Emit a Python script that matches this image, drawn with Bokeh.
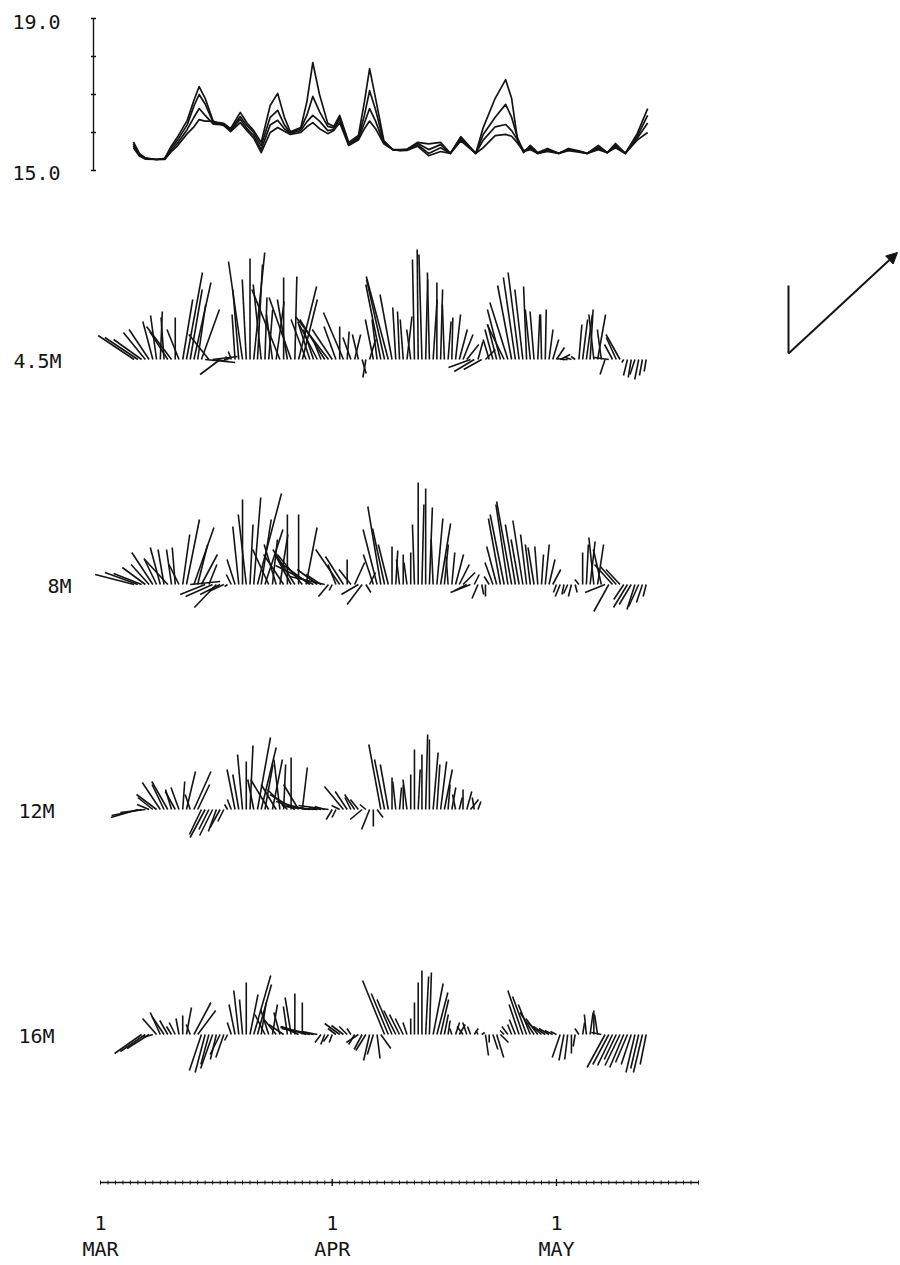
import math
from bokeh.plotting import figure
from bokeh.models import Range1d, Arrow, NormalHead
from bokeh.core.properties import value
from bokeh.embed import file_html
from bokeh.resources import INLINE

nan = float("nan")

# ---------------- data ----------------
# temperature (deg C) at four depths, key days since 1 March
TEMP_DAY = [4.4, 5.2, 6.0, 7.5, 8.6, 9.4, 10.3, 11.6, 12.5, 13.2, 14.0, 15.1, 16.5, 17.4, 18.7,
            19.6, 20.5, 21.5, 22.7, 23.7, 24.6, 25.4, 26.8, 27.6, 28.4, 29.3, 30.4, 31.2, 32.0, 33.2,
            34.5, 35.3, 36.0, 36.8, 37.9, 39.1, 40.1, 41.0, 42.4, 43.9, 45.5, 46.8, 48.2, 50.2, 51.2,
            52.8, 54.2, 55.0, 55.8, 56.6, 57.5, 58.5, 59.8, 61.3, 62.6, 64.0, 65.1, 66.6, 67.8, 68.9,
            70.2, 71.8, 73.2]
TEMP_1 = [15.75, 15.45, 15.33, 15.29, 15.32, 15.62, 15.88, 16.32, 16.85, 17.21, 16.90, 16.28, 16.24, 16.10, 16.53,
          16.25, 16.05, 15.74, 16.71, 17.03, 16.40, 16.02, 16.13, 16.80, 17.84, 17.00, 16.24, 16.16, 16.45, 15.74,
          15.92, 16.80, 17.68, 16.90, 15.79, 15.55, 15.55, 15.56, 15.74, 15.70, 15.74, 15.45, 15.89, 15.45, 16.13,
          16.90, 17.39, 16.90, 15.79, 15.47, 15.66, 15.47, 15.58, 15.45, 15.58, 15.52, 15.45, 15.66, 15.47, 15.71,
          15.45, 15.97, 16.63]
TEMP_2 = [15.70, 15.42, 15.32, 15.29, 15.31, 15.58, 15.80, 16.20, 16.70, 17.00, 16.75, 16.25, 16.22, 16.08, 16.42,
          16.18, 16.00, 15.65, 16.40, 16.58, 16.20, 16.00, 16.10, 16.45, 16.95, 16.55, 16.16, 16.12, 16.40, 15.70,
          15.88, 16.45, 17.10, 16.60, 15.75, 15.55, 15.54, 15.55, 15.72, 15.55, 15.68, 15.45, 15.86, 15.45, 15.95,
          16.40, 16.74, 16.40, 15.85, 15.50, 15.62, 15.45, 15.55, 15.45, 15.56, 15.50, 15.45, 15.62, 15.47, 15.68,
          15.45, 15.90, 16.45]
TEMP_3 = [15.65, 15.40, 15.31, 15.29, 15.30, 15.52, 15.72, 16.08, 16.40, 16.63, 16.45, 16.22, 16.20, 16.05, 16.35,
          16.10, 15.92, 15.55, 16.20, 16.32, 16.10, 15.98, 16.05, 16.28, 16.45, 16.30, 16.05, 16.08, 16.35, 15.68,
          15.84, 16.25, 16.63, 16.30, 15.72, 15.55, 15.53, 15.54, 15.68, 15.45, 15.60, 15.45, 15.82, 15.45, 15.80,
          16.15, 16.21, 16.05, 15.80, 15.52, 15.58, 15.45, 15.52, 15.45, 15.54, 15.50, 15.45, 15.58, 15.47, 15.64,
          15.45, 15.85, 16.25]
TEMP_4 = [15.60, 15.38, 15.30, 15.29, 15.29, 15.48, 15.65, 15.97, 16.15, 16.34, 16.30, 16.30, 16.18, 16.02, 16.26,
          16.05, 15.85, 15.47, 16.00, 16.13, 16.03, 15.95, 16.00, 16.15, 16.26, 16.10, 15.97, 16.05, 16.26, 15.66,
          15.80, 16.10, 16.30, 16.10, 15.70, 15.55, 15.52, 15.53, 15.64, 15.39, 15.50, 15.45, 15.78, 15.45, 15.60,
          15.92, 15.95, 15.90, 15.72, 15.50, 15.55, 15.45, 15.50, 15.45, 15.52, 15.48, 15.45, 15.55, 15.47, 15.60,
          15.45, 15.80, 16.00]
TEMP_TICKS = [15, 16, 17, 18, 19]

# current vectors, east (U) and north (V) components, mm/s, every 12 h from day 4.5
STICK_START_DAY = 4.5
STICK_STEP_DAY = 0.5

U_45M = [-36, -33, -28, -22, -20, -10, -6, 2, -3, -18,
         -25, 0, -12, 10, 16, 12, 17, 8, 18, 30,
         -20, 25, 12, -20, 6, -2, -3, -3, -6, -14,
         -4, 0, 11, 5, -8, 2, 4, -6, 8, -28,
         0, -10, -22, 2, 18, 15, -15, -12, -10, -18,
         -8, -25, -33, -20, -12, 0, -20, 2, -8, 6,
         -6, 4, -3, 6, -8, -5, -15, -18, -22, -12,
         -3, -2, -3, 5, -4, -2, -1, -3, 2, -2,
         4, 0, 2, -2, 3, 1, 5, 8, 10, 12,
         -22, -20, 5, -18, 10, -6, -8, -9, -13, -17,
         -18, -14, -12, -11, -8, -3, -5, -4, 2, -1,
         1, 4, 6, 8, 10, -8, -5, -6, -4, 3,
         5, 6, 3, -5, 8, -4, -5, -15, -8, -10,
         -14, -2, -4, -3, -5, -4, -3, -2]
V_45M = [24, 22, 20, 27, 30, 38, 44, 48, 42, 28,
         33, 42, 30, 60, 87, 70, 77, 55, 50, -3,
         25, 3, -2, -15, 1, 3, 8, 45, 70, 98,
         80, 101, 107, 95, 75, 62, 50, 45, 58, 70,
         82, 60, 62, 83, 73, 60, 40, 38, 30, 35,
         20, 40, 43, 30, 33, 33, 47, 28, 22, 25,
         25, -14, -18, 20, 40, 40, 75, 80, 83, 65,
         52, 48, 40, 43, 30, 100, 110, 105, 80, 87,
         60, 77, 70, 55, 38, 42, 45, 30, 25, 15,
         -8, -12, 18, -10, 10, 20, 30, 35, 50, 35,
         57, 74, 82, 87, 70, 73, 50, 48, 45, 45,
         50, 30, 20, 12, 5, 1, 0, 2, 3, 35,
         40, 45, 50, 45, 45, 30, -15, 2, 15, 22,
         25, -3, -16, -18, -15, -20, -16, -12]

U_8M = [-39, -33, -28, -23, -18, -21, -12, -10, -6, -24,
        -5, -3, -10, 7, 13, 30, 20, 10, 16, -25,
        8, -27, -22, -20, -15, -3, -5, -8, -6, 0,
        -8, 3, 7, 24, 10, 18, -16, 5, -12, 8,
        -20, 0, -15, -22, 0, -25, 11, -30, -38, -20,
        -15, -35, -10, -3, -8, -24, -18, 0, -12, 10,
        -17, -15, 5, 6, -10, -14, -13, -12, -10, 0,
        2, -3, 0, -3, 0, -2, 0, 2, 0, 3,
        -2, 6, 10, 4, -2, 3, 8, 10, 12, -12,
        -20, 5, -6, 2, 0, -5, -8, -10, -12, -14,
        -12, -15, -10, -8, -10, -6, -5, -6, -3, 2,
        4, 6, 8, -3, -5, -2, -4, -3, 2, -4,
        0, 2, 5, -5, 6, -8, -20, -15, -18, -16,
        -14, -10, -14, -12, -8, -10, -6, -3]
V_8M = [10, 12, 11, 17, 20, 32, 25, 37, 35, 26,
        35, 37, 20, 50, 65, 3, 57, 40, 30, -10,
        20, -12, -23, -10, -7, -2, 10, 25, 58, 85,
        70, 60, 87, 91, 65, 55, 35, 45, 40, 50,
        30, 70, 28, 35, 70, 30, 57, 22, 19, 15,
        10, 8, -12, -6, 20, 35, 28, 25, 15, 22,
        -10, -20, -8, 12, 30, 55, 78, 56, 40, 38,
        34, 25, 30, 22, 32, 60, 102, 80, 96, 77,
        45, 66, 61, 40, 28, 32, 30, 20, 12, -6,
        -8, 10, -14, -10, -12, 8, 22, 38, 66, 70,
        80, 83, 60, 45, 64, 50, 40, 37, 38, 30,
        40, 25, 15, -8, -12, -10, -9, -12, -8, 5,
        32, 40, 43, 47, 40, 35, -8, -27, 20, 18,
        15, -15, -23, -20, -25, -22, -18, -12]

U_12M = [nan, -27, -30, -25, -12, -15, -20, -18, -12, -16,
         -6, -10, -8, 2, 9, -5, 17, 12, -12, -15,
         -10, -13, -8, -10, -6, -3, -4, -8, -6, -5,
         0, 3, -6, 13, 15, 8, -18, 10, -15, -6,
         2, -20, 0, -25, -15, 5, -30, -28, -30, -25,
         -12, -10, -30, -6, -4, -8, -19, -12, -6, -10,
         -8, -12, -6, -8, 0, 6, -12, -10, -8, 0,
         -3, 2, 0, -4, 0, 0, 2, 0, 2, 0,
         5, 3, 6, 8, 2, 4, -3, 3, 0, 5,
         8, -2, 3]
V_12M = [nan, -8, -6, -3, 5, 12, 15, 27, 25, 28,
         20, 18, 22, 28, 38, 15, 38, 25, -25, -28,
         -20, -26, -22, -18, -12, 5, 10, 40, 35, 55,
         48, 64, 30, 72, 62, 45, 30, 50, 25, 50,
         45, 20, 52, 15, 25, 42, 8, 4, 3, 2,
         2, 3, 4, -10, -8, 4, 23, 18, 12, 15,
         10, -10, 5, -20, -17, -8, 65, 50, 45, 32,
         28, 22, 25, 30, 35, 60, 40, 55, 75, 70,
         57, 45, 48, 40, 25, 22, 15, 12, 20, 18,
         10, 12, 8]

U_16M = [nan, nan, -27, -25, -22, -10, -14, -10, -12, -8,
         -5, -6, -3, 0, 5, -4, 17, 18, -12, -10,
         -8, -12, -6, -10, -8, -3, -4, -6, -5, -3,
         0, 8, 17, 14, 5, -10, -8, 5, -12, -6,
         -15, -4, -6, 0, -18, 0, -25, -28, -33, -15,
         -6, -4, -5, -3, -8, -15, -12, -8, -4, -6,
         -12, -8, -10, -6, -6, 3, 10, -22, -17, -15,
         -12, -10, -8, -4, 0, 0, 0, 0, 3, 2,
         10, 11, 8, 4, 2, -2, 4, 6, -6, -4,
         -3, 4, -2, 3, 3, 0, 5, 7, 8, -4,
         -6, -4, -6, -10, -15, -14, -12, -14, -12, -14,
         -12, -10, -8, -6, -8, -5, -3, 0, -2, -4,
         2, -2, 3, 0, -3, -10, -18, -16, -15, -12,
         -15, -14, -12, -10, -9, -8, -9, -6]
V_16M = [nan, nan, -19, -17, -14, -3, 16, 22, 18, 14,
         8, 12, 16, 19, 27, 10, 32, 24, -36, -38,
         -30, -34, -25, -20, -23, -6, 12, 30, 44, 35,
         52, 40, 59, 50, 32, 20, 25, 30, 15, 22,
         10, 28, 37, 41, 8, 32, 8, 6, 7, 3,
         -8, -10, -7, -8, 6, 11, 9, 8, 6, -10,
         -8, -15, -16, -26, -20, -24, -14, 54, 41, 35,
         24, 20, 16, 12, 16, 32, 52, 64, 58, 62,
         51, 42, 35, 20, 14, 6, 12, 10, 8, 12,
         8, 6, 4, 2, -21, -8, -15, -23, -8, 4,
         8, 10, 15, 30, 44, 38, 30, 22, 16, 12,
         8, 6, 4, 3, -23, -26, -25, -19, -12, 6,
         12, 20, 22, 24, 20, 2, -33, -30, -31, -25,
         -31, -33, -28, -30, -38, -34, -38, -30]

DEPTH_LABELS = ["4.5M", "8M", "12M", "16M"]
MONTH_DAYS = [0, 31, 61]
MONTH_DAY_TEXT = ["1", "1", "1"]
MONTH_NAMES = ["MAR", "APR", "MAY"]
AXIS_LAST_DAY = 80
KEY_NORTH = 68            # mm/s, vertical reference stick
KEY_VECTOR = (109, 101)   # mm/s, east / north of the arrow key

# ---------------- layout ----------------
W, H = 900, 1265
PX_PER_DAY = 7.475
DAY0_PX = 100
X0 = -DAY0_PX / PX_PER_DAY
X1 = X0 + W / PX_PER_DAY
STICK_PX_PER_UNIT = 1.0
FONT = value("DejaVu Sans Mono")
FSIZE = "20px"
INK = "#141414"


def band(base_from_top, px_per_unit, base_value=0.0):
    below = H - base_from_top
    return Range1d(start=base_value - below / px_per_unit,
                   end=base_value + base_from_top / px_per_unit)


p = figure(width=W, height=H, x_range=Range1d(X0, X1), y_range=band(1182, 1.0),
           output_backend="svg", toolbar_location=None, min_border=0,
           x_axis_location=None, y_axis_location=None,
           outline_line_color=None, background_fill_color="white",
           border_fill_color="white")
p.grid.visible = False

p.extra_y_ranges = {
    "temp": band(170, 38.0, 15.0),
    "d0": band(359, STICK_PX_PER_UNIT),
    "d1": band(584, STICK_PX_PER_UNIT),
    "d2": band(809, STICK_PX_PER_UNIT),
    "d3": band(1034, STICK_PX_PER_UNIT),
}

# temperature
for ser in (TEMP_1, TEMP_2, TEMP_3, TEMP_4):
    p.line(TEMP_DAY, ser, y_range_name="temp", line_color=INK, line_width=1.7,
           line_join="round")

axis_day = -7 / PX_PER_DAY
p.segment(x0=[axis_day], y0=[TEMP_TICKS[0]], x1=[axis_day], y1=[TEMP_TICKS[-1]],
          y_range_name="temp", line_color=INK, line_width=1.4)
half = 2.5 / PX_PER_DAY
p.segment(x0=[axis_day - half] * len(TEMP_TICKS), y0=TEMP_TICKS,
          x1=[axis_day + half] * len(TEMP_TICKS), y1=TEMP_TICKS,
          y_range_name="temp", line_color=INK, line_width=1.4)
lab_day = -88 / PX_PER_DAY
p.text(x=[lab_day, lab_day], y=[TEMP_TICKS[-1], TEMP_TICKS[0]],
       text=["%.1f" % TEMP_TICKS[-1], "%.1f" % TEMP_TICKS[0]],
       y_range_name="temp", text_font=FONT, text_font_size=FSIZE,
       text_color=INK, text_align="left", text_baseline="middle",
       y_offset=[3, 2])

# sticks
label_px = [-87, -53, -82, -82]
for k, (U, V) in enumerate([(U_45M, V_45M), (U_8M, V_8M), (U_12M, V_12M), (U_16M, V_16M)]):
    x0, y0, x1, y1 = [], [], [], []
    for i, (u, v) in enumerate(zip(U, V)):
        if math.isnan(u) or math.isnan(v):
            continue
        t = STICK_START_DAY + STICK_STEP_DAY * i
        x0.append(t)
        y0.append(0.0)
        x1.append(t + u * STICK_PX_PER_UNIT / PX_PER_DAY)
        y1.append(v)
    p.segment(x0=x0, y0=y0, x1=x1, y1=y1, y_range_name="d%d" % k,
              line_color=INK, line_width=1.6)
    p.text(x=[label_px[k] / PX_PER_DAY], y=[0], text=[DEPTH_LABELS[k]],
           y_range_name="d%d" % k, text_font=FONT, text_font_size=FSIZE,
           text_color=INK, text_align="left", text_baseline="middle", y_offset=1)

# scale key
key_day = 688 / PX_PER_DAY
key_base = 6
p.segment(x0=[key_day], y0=[key_base], x1=[key_day], y1=[key_base + KEY_NORTH],
          y_range_name="d0", line_color=INK, line_width=2)
p.add_layout(Arrow(x_start=key_day, y_start=key_base,
                   x_end=key_day + KEY_VECTOR[0] / PX_PER_DAY, y_end=key_base + KEY_VECTOR[1],
                   y_range_name="d0", line_color=INK, line_width=2,
                   end=NormalHead(size=11, fill_color=INK, line_color=INK)))

# time axis
days = list(range(0, AXIS_LAST_DAY + 1))
p.segment(x0=[0], y0=[0], x1=[AXIS_LAST_DAY], y1=[0], line_color=INK, line_width=1.4)
p.segment(x0=days, y0=[-2] * len(days), x1=days, y1=[2] * len(days),
          line_color=INK, line_width=1)
p.segment(x0=MONTH_DAYS[1:], y0=[-3.5] * 2, x1=MONTH_DAYS[1:], y1=[3.5] * 2,
          line_color=INK, line_width=1.3)
p.text(x=MONTH_DAYS, y=[-40] * 3, text=MONTH_DAY_TEXT, text_font=FONT,
       text_font_size=FSIZE, text_color=INK, text_align="center", text_baseline="middle")
p.text(x=MONTH_DAYS, y=[-66] * 3, text=MONTH_NAMES, text_font=FONT,
       text_font_size=FSIZE, text_color=INK, text_align="center", text_baseline="middle")

open("out.html", "w").write(file_html(p, INLINE))
